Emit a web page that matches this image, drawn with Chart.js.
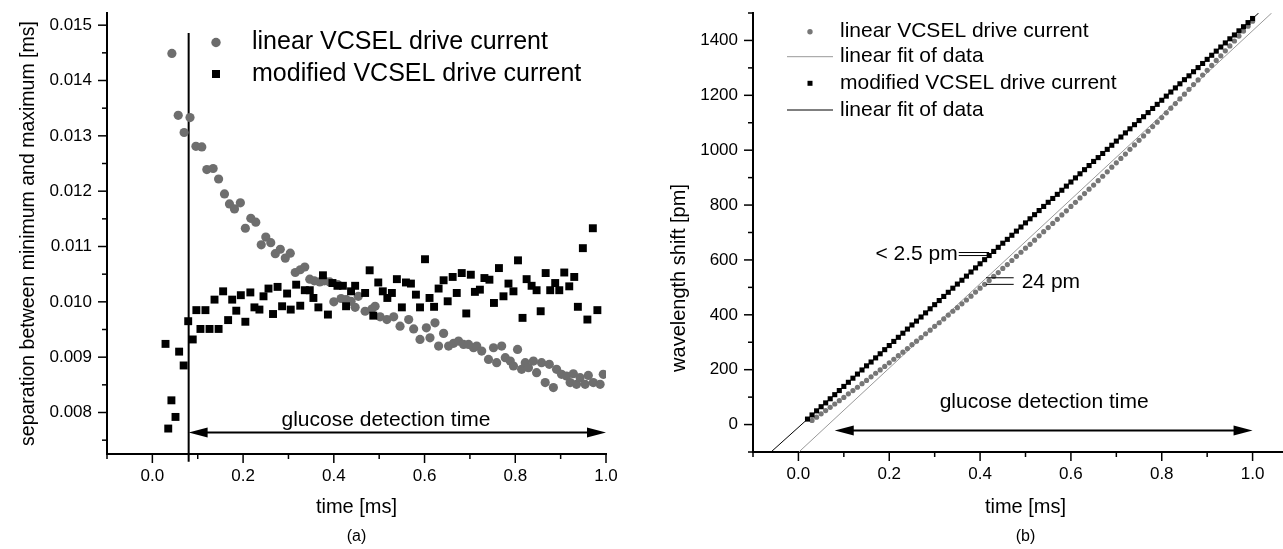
<!DOCTYPE html>
<html>
<head>
<meta charset="utf-8">
<title>VCSEL drive current</title>
<script src="https://cdn.jsdelivr.net/npm/chart.js@4.4.1/dist/chart.umd.min.js"></script>
<style>
  html, body { margin: 0; padding: 0; background: #fff; width: 1283px; height: 549px; overflow: hidden; }
  #boxA { position: absolute; left: 0; top: 0; width: 640px; height: 549px; }
  #boxB { position: absolute; left: 640px; top: 0; width: 670px; height: 549px; }
</style>
</head>
<body>
<div id="boxA"><canvas id="chartA" width="640" height="549"></canvas></div>
<div id="boxB"><canvas id="chartB" width="670" height="549"></canvas></div>
<script>
// ---------- (a) separation between minimum and maximum ----------
const timeLinA = [0.043, 0.057, 0.070, 0.083, 0.096, 0.109, 0.120, 0.134, 0.146, 0.159, 0.170, 0.181, 0.194, 0.205, 0.217, 0.228, 0.240, 0.250, 0.261, 0.271,
  0.282, 0.293, 0.304, 0.315, 0.326, 0.336, 0.347, 0.357, 0.369, 0.379, 0.391, 0.400, 0.409, 0.416, 0.427, 0.438, 0.447, 0.454, 0.469, 0.484,
  0.491, 0.502, 0.517, 0.532, 0.546, 0.565, 0.576, 0.590, 0.604, 0.612, 0.623, 0.631, 0.642, 0.653, 0.664, 0.675, 0.686, 0.697, 0.708, 0.715,
  0.726, 0.741, 0.752, 0.759, 0.770, 0.778, 0.789, 0.796, 0.805, 0.814, 0.822, 0.829, 0.840, 0.847, 0.858, 0.866, 0.875, 0.884, 0.891, 0.902,
  0.913, 0.921, 0.928, 0.935, 0.943, 0.954, 0.961, 0.972, 0.987, 0.994];
const sepLinA = [0.01449, 0.01337, 0.01306, 0.01333, 0.01281, 0.01280, 0.01239, 0.01241, 0.01222, 0.01195, 0.01177, 0.01168, 0.01179, 0.01133, 0.01151, 0.01144, 0.01103, 0.01117, 0.01107, 0.01087,
  0.01095, 0.01079, 0.01088, 0.01053, 0.01058, 0.01063, 0.01041, 0.01038, 0.01036, 0.01038, 0.01036, 0.01000, 0.01031, 0.01006, 0.01004, 0.01001, 0.00990, 0.01010, 0.00983, 0.00987,
  0.00992, 0.00973, 0.00968, 0.00973, 0.00956, 0.00968, 0.00951, 0.00932, 0.00953, 0.00935, 0.00962, 0.00920, 0.00943, 0.00920, 0.00925, 0.00929, 0.00923, 0.00923, 0.00917, 0.00920,
  0.00911, 0.00896, 0.00917, 0.00890, 0.00920, 0.00899, 0.00893, 0.00884, 0.00914, 0.00878, 0.00890, 0.00881, 0.00893, 0.00872, 0.00890, 0.00854, 0.00887, 0.00845, 0.00878, 0.00869,
  0.00866, 0.00854, 0.00870, 0.00851, 0.00863, 0.00851, 0.00867, 0.00854, 0.00851, 0.00869];

const timeModA = [0.029, 0.035, 0.042, 0.051, 0.059, 0.069, 0.079, 0.089, 0.097, 0.106, 0.117, 0.126, 0.137, 0.146, 0.156, 0.167, 0.176, 0.185, 0.195, 0.205,
  0.216, 0.225, 0.236, 0.245, 0.256, 0.266, 0.276, 0.286, 0.297, 0.305, 0.317, 0.326, 0.336, 0.347, 0.355, 0.366, 0.376, 0.387, 0.397, 0.408,
  0.420, 0.427, 0.438, 0.447, 0.469, 0.479, 0.487, 0.498, 0.508, 0.518, 0.528, 0.539, 0.550, 0.559, 0.570, 0.581, 0.590, 0.601, 0.611, 0.621,
  0.631, 0.642, 0.651, 0.662, 0.671, 0.682, 0.692, 0.702, 0.711, 0.722, 0.732, 0.743, 0.753, 0.764, 0.774, 0.785, 0.796, 0.806, 0.816, 0.825,
  0.836, 0.847, 0.856, 0.867, 0.877, 0.888, 0.897, 0.908, 0.919, 0.930, 0.938, 0.949, 0.959, 0.971, 0.981];
const sepModA = [0.00924, 0.00771, 0.00822, 0.00792, 0.00910, 0.00885, 0.00965, 0.00932, 0.00985, 0.00951, 0.00985, 0.00951, 0.01004, 0.00951, 0.01019, 0.00967, 0.01004, 0.00984, 0.01012, 0.00964,
  0.01017, 0.00990, 0.00986, 0.01010, 0.01024, 0.00978, 0.01027, 0.00992, 0.01015, 0.00986, 0.01031, 0.00993, 0.01021, 0.01021, 0.01007, 0.00990, 0.01048, 0.00977, 0.01034, 0.01029,
  0.01029, 0.00992, 0.01019, 0.01029, 0.01016, 0.01057, 0.00975, 0.01035, 0.01019, 0.01007, 0.01016, 0.01041, 0.00990, 0.01035, 0.01033, 0.01013, 0.00990, 0.01077, 0.01007, 0.00991,
  0.01024, 0.01039, 0.01001, 0.01045, 0.01016, 0.01052, 0.00979, 0.01049, 0.01018, 0.01022, 0.01043, 0.01040, 0.00998, 0.01061, 0.01010, 0.01033, 0.01019, 0.01075, 0.00971, 0.01041,
  0.01029, 0.01021, 0.00983, 0.01052, 0.01021, 0.01034, 0.01021, 0.01053, 0.01028, 0.01045, 0.00991, 0.01097, 0.00968, 0.01133, 0.00985];

const startLineA = { x: 0.08, y: [0.01486, 0.00711] };
const arrowA = { x: [0.08, 1.0], y: 0.00764 };
const noteA = { x: 0.515, y: 0.00786 };

const xMajorA = [0, 0.2, 0.4, 0.6, 0.8, 1.0];
const xLabelsA = ['0.0', '0.2', '0.4', '0.6', '0.8', '1.0'];
const xMinorA = [-0.1, 0.1, 0.3, 0.5, 0.7, 0.9];
const yMajorA = [0.008, 0.009, 0.010, 0.011, 0.012, 0.013, 0.014, 0.015];
const yLabelsA = ['0.008', '0.009', '0.010', '0.011', '0.012', '0.013', '0.014', '0.015'];
const yMinorA = [0.0075, 0.0085, 0.0095, 0.0105, 0.0115, 0.0125, 0.0135, 0.0145];

// ---------- (b) wavelength shift ----------
const timeB = [0.02, 0.03, 0.04, 0.05, 0.06, 0.07, 0.08, 0.09, 0.10, 0.11, 0.12, 0.13, 0.14, 0.15, 0.16, 0.17, 0.18, 0.19, 0.20,
  0.21, 0.22, 0.23, 0.24, 0.25, 0.26, 0.27, 0.28, 0.29, 0.30, 0.31, 0.32, 0.33, 0.34, 0.35, 0.36, 0.37, 0.38, 0.39, 0.40,
  0.41, 0.42, 0.43, 0.44, 0.45, 0.46, 0.47, 0.48, 0.49, 0.50, 0.51, 0.52, 0.53, 0.54, 0.55, 0.56, 0.57, 0.58, 0.59, 0.60,
  0.61, 0.62, 0.63, 0.64, 0.65, 0.66, 0.67, 0.68, 0.69, 0.70, 0.71, 0.72, 0.73, 0.74, 0.75, 0.76, 0.77, 0.78, 0.79, 0.80,
  0.81, 0.82, 0.83, 0.84, 0.85, 0.86, 0.87, 0.88, 0.89, 0.90, 0.91, 0.92, 0.93, 0.94, 0.95, 0.96, 0.97, 0.98, 0.99, 1.00];
const shiftLinB = [null, 15, 27, 39, 51, 63, 75, 87, 99, 112, 124, 136, 149, 161, 174, 187, 199, 212, 225,
  238, 251, 264, 277, 291, 304, 317, 331, 344, 358, 371, 385, 399, 413, 426, 440, 454, 468, 483, 497,
  511, 525, 540, 554, 569, 583, 598, 613, 628, 643, 657, 672, 688, 703, 718, 733, 748, 764, 779, 795,
  810, 826, 842, 858, 873, 889, 905, 921, 938, 954, 970, 986, 1003, 1019, 1036, 1052, 1069, 1086, 1102, 1119,
  1136, 1153, 1170, 1187, 1204, 1222, 1239, 1256, 1274, 1291, 1309, 1327, 1344, 1362, 1380, 1398, 1416, 1434, 1452, 1470];
const shiftModB = [20, 35, 50, 65, 79, 94, 109, 124, 139, 154, 169, 184, 199, 214, 228, 243, 258, 273, 288,
  303, 318, 333, 348, 363, 377, 392, 407, 422, 437, 452, 467, 482, 497, 512, 526, 541, 556, 571, 586,
  601, 616, 631, 646, 661, 675, 690, 705, 720, 735, 750, 765, 780, 795, 810, 824, 839, 854, 869, 884,
  899, 914, 929, 944, 959, 973, 988, 1003, 1018, 1033, 1048, 1063, 1078, 1093, 1108, 1122, 1137, 1152, 1167, 1182,
  1197, 1212, 1227, 1242, 1257, 1271, 1286, 1301, 1316, 1331, 1346, 1361, 1376, 1391, 1406, 1420, 1435, 1450, 1465, 1480];

const fitLinX = [0.001, 1.042];
const fitLinY = [-100, 1500];
const fitModX = [-0.0604, 1.0134];
const fitModY = [-100, 1500];

const gapMod = { x: [0.353, 0.42], y: [627, 616] };  // "< 2.5 pm" marker
const gapLin = { x: [0.413, 0.474], y: [535, 511] };  // "24 pm" marker
const arrowB = { x: [0.08, 1.0], y: -22 };
const noteB = { x: 0.541, y: 83 };

const xMajorB = [0, 0.2, 0.4, 0.6, 0.8, 1.0];
const xLabelsB = ['0.0', '0.2', '0.4', '0.6', '0.8', '1.0'];
const xMinorB = [-0.1, 0.1, 0.3, 0.5, 0.7, 0.9, 1.1];
const yMajorB = [0, 200, 400, 600, 800, 1000, 1200, 1400];
const yLabelsB = ['0', '200', '400', '600', '800', '1000', '1200', '1400'];
const yMinorB = [-100, 100, 300, 500, 700, 900, 1100, 1300, 1500];

const FONT = '"Liberation Sans", Arial, sans-serif';
Chart.defaults.font.family = FONT;
Chart.defaults.color = '#000';

function pts(xs, ys) {
  return xs.map((x, i) => ({ x: x, y: ys[i] }));
}

function isIn(v, list) {
  return list.some(m => Math.abs(m - v) < 1e-9);
}

function axis(o) {
  const all = o.major.concat(o.minor).sort((a, b) => a - b);
  return {
    type: 'linear',
    min: o.min,
    max: o.max,
    afterBuildTicks: s => { s.ticks = all.map(v => ({ value: v })); },
    afterFit: s => {
      if (o.width) s.width = o.width;
      if (o.height) s.height = o.height;
      // label overhang is handled by the layout padding
      s.paddingTop = 0;
      s.paddingBottom = 0;
      s.paddingLeft = 0;
      s.paddingRight = 0;
    },
    grid: { drawOnChartArea: false, drawTicks: false },
    border: { display: true, color: '#000', width: 2 },
    ticks: {
      autoSkip: false,
      maxRotation: 0,
      padding: o.pad,
      color: '#000',
      font: { size: 17 },
      callback: v => {
        const i = o.major.findIndex(m => Math.abs(m - v) < 1e-9);
        return i < 0 ? '' : o.labels[i];
      }
    },
    title: { display: o.title !== '', text: o.title, color: '#000', font: { size: o.titleSize }, padding: o.titlePad }
  };
}

// Origin style tick marks: long for labelled ticks, short for the others
const tickMarks = {
  id: 'tickMarks',
  afterDraw(chart, args, opts) {
    const { ctx, chartArea: a } = chart;
    ctx.save();
    ctx.strokeStyle = '#000';
    ctx.lineWidth = 1.5;
    [['x', opts.xMajor], ['y', opts.yMajor]].forEach(([id, major]) => {
      const s = chart.scales[id];
      s.ticks.forEach(t => {
        const len = isIn(t.value, major) ? 9 : 5;
        const p = s.getPixelForValue(t.value);
        ctx.beginPath();
        if (s.isHorizontal()) {
          ctx.moveTo(p, a.bottom);
          ctx.lineTo(p, a.bottom + len);
        } else {
          ctx.moveTo(a.left - len, p);
          ctx.lineTo(a.left, p);
        }
        ctx.stroke();
      });
    });
    ctx.restore();
  }
};

function drawArrow(ctx, x1, x2, y) {
  const head = 19, half = 5;
  ctx.strokeStyle = '#000';
  ctx.fillStyle = '#000';
  ctx.lineWidth = 2;
  ctx.beginPath();
  ctx.moveTo(x1 + head - 2, y);
  ctx.lineTo(x2 - head + 2, y);
  ctx.stroke();
  ctx.beginPath();
  ctx.moveTo(x1, y);
  ctx.lineTo(x1 + head, y - half);
  ctx.lineTo(x1 + head, y + half);
  ctx.closePath();
  ctx.fill();
  ctx.beginPath();
  ctx.moveTo(x2, y);
  ctx.lineTo(x2 - head, y - half);
  ctx.lineTo(x2 - head, y + half);
  ctx.closePath();
  ctx.fill();
}

const decorA = {
  id: 'decorA',
  afterDraw(chart) {
    const { ctx, chartArea: a, scales: { x, y } } = chart;
    ctx.save();
    drawArrow(ctx, x.getPixelForValue(arrowA.x[0]), x.getPixelForValue(arrowA.x[1]), y.getPixelForValue(arrowA.y));
    ctx.fillStyle = '#000';
    ctx.textBaseline = 'middle';
    ctx.textAlign = 'center';
    ctx.font = '21px ' + FONT;
    ctx.fillText('glucose detection time', x.getPixelForValue(noteA.x), y.getPixelForValue(noteA.y));

    // legend
    ctx.fillStyle = '#6b6b6b';
    ctx.beginPath();
    ctx.arc(216, 42.5, 4.7, 0, Math.PI * 2);
    ctx.fill();
    ctx.fillStyle = '#000';
    ctx.fillRect(212, 70, 8, 8);
    ctx.textAlign = 'left';
    ctx.font = '25px ' + FONT;
    ctx.fillText('linear VCSEL drive current', 252, 42.5);
    ctx.fillText('modified VCSEL drive current', 252, 74);

    ctx.textAlign = 'center';
    ctx.font = '16px ' + FONT;
    ctx.fillText('(a)', (a.left + a.right) / 2, 537);
    ctx.restore();
  }
};

const decorB = {
  id: 'decorB',
  afterDraw(chart) {
    const { ctx, chartArea: a, scales: { x, y } } = chart;
    ctx.save();
    drawArrow(ctx, x.getPixelForValue(arrowB.x[0]), x.getPixelForValue(arrowB.x[1]), y.getPixelForValue(arrowB.y));
    ctx.fillStyle = '#000';
    ctx.textBaseline = 'middle';
    ctx.textAlign = 'center';
    ctx.font = '21px ' + FONT;
    ctx.fillText('glucose detection time', x.getPixelForValue(noteB.x), y.getPixelForValue(noteB.y));

    // deviation markers
    ctx.strokeStyle = '#000';
    ctx.lineWidth = 1;
    [gapMod, gapLin].forEach(g => {
      g.y.forEach(v => {
        ctx.beginPath();
        ctx.moveTo(x.getPixelForValue(g.x[0]), y.getPixelForValue(v));
        ctx.lineTo(x.getPixelForValue(g.x[1]), y.getPixelForValue(v));
        ctx.stroke();
      });
    });
    ctx.textAlign = 'right';
    ctx.fillText('< 2.5 pm', x.getPixelForValue(gapMod.x[0]) - 1, (y.getPixelForValue(gapMod.y[0]) + y.getPixelForValue(gapMod.y[1])) / 2);
    ctx.textAlign = 'left';
    ctx.fillText('24 pm', x.getPixelForValue(gapLin.x[1]) + 8, (y.getPixelForValue(gapLin.y[0]) + y.getPixelForValue(gapLin.y[1])) / 2 + 1);

    // legend
    ctx.fillStyle = '#777';
    ctx.beginPath();
    ctx.arc(170, 31.7, 2.7, 0, Math.PI * 2);
    ctx.fill();
    ctx.strokeStyle = '#999';
    ctx.beginPath();
    ctx.moveTo(147, 56.7);
    ctx.lineTo(193, 56.7);
    ctx.stroke();
    ctx.fillStyle = '#000';
    ctx.fillRect(167.5, 80.8, 5, 5);
    ctx.strokeStyle = '#000';
    ctx.beginPath();
    ctx.moveTo(147, 110);
    ctx.lineTo(193, 110);
    ctx.stroke();
    ctx.font = '21px ' + FONT;
    ctx.fillText('linear VCSEL drive current', 200, 31.7);
    ctx.fillText('linear fit of data', 200, 56.7);
    ctx.fillText('modified VCSEL drive current', 200, 83.3);
    ctx.fillText('linear fit of data', 200, 110);

    // y axis title, sits a little below the middle of the axis
    ctx.save();
    ctx.translate(39, 278);
    ctx.rotate(-Math.PI / 2);
    ctx.textAlign = 'center';
    ctx.font = '20px ' + FONT;
    ctx.fillText('wavelength shift [pm]', 0, 0);
    ctx.restore();

    ctx.textAlign = 'center';
    ctx.font = '16px ' + FONT;
    ctx.fillText('(b)', (a.left + a.right) / 2, 537);
    ctx.restore();
  }
};

new Chart(document.getElementById('chartA'), {
  type: 'scatter',
  data: {
    datasets: [
      {
        label: 'modified VCSEL drive current',
        data: pts(timeModA, sepModA),
        pointStyle: 'rect',
        pointRadius: 5.6,
        backgroundColor: '#000',
        borderWidth: 0
      },
      {
        label: 'linear VCSEL drive current',
        data: pts(timeLinA, sepLinA),
        pointStyle: 'circle',
        pointRadius: 4.6,
        backgroundColor: '#6e6e6e',
        borderWidth: 0
      },
      {
        label: 'start',
        data: startLineA.y.map(v => ({ x: startLineA.x, y: v })),
        showLine: true,
        clip: false,
        borderColor: '#000',
        borderWidth: 2,
        pointRadius: 0
      }
    ]
  },
  options: {
    responsive: false,
    animation: false,
    devicePixelRatio: 1,
    layout: { padding: { left: 0, top: 13, right: 34, bottom: 0 } },
    plugins: {
      legend: { display: false },
      tooltip: { enabled: false },
      tickMarks: { xMajor: xMajorA, yMajor: yMajorA }
    },
    scales: {
      x: axis({ min: -0.1, max: 1.0, major: xMajorA, minor: xMinorA, labels: xLabelsA, pad: 12, height: 95,
        title: 'time [ms]', titleSize: 20, titlePad: { top: 4, bottom: 30 } }),
      y: axis({ min: 0.00725, max: 0.01522, major: yMajorA, minor: yMinorA, labels: yLabelsA, pad: 15, width: 107,
        title: 'separation between minimum and maximum [ms]', titleSize: 19.5, titlePad: { top: 17, bottom: 4 } })
    }
  },
  plugins: [tickMarks, decorA]
});

new Chart(document.getElementById('chartB'), {
  type: 'scatter',
  data: {
    datasets: [
      {
        label: 'modified VCSEL drive current',
        data: pts(timeB, shiftModB),
        pointStyle: 'rect',
        pointRadius: 3.6,
        backgroundColor: '#000',
        borderWidth: 0
      },
      {
        label: 'linear VCSEL drive current',
        data: pts(timeB, shiftLinB),
        pointStyle: 'circle',
        pointRadius: 2.6,
        backgroundColor: '#777',
        borderWidth: 0
      },
      {
        label: 'linear fit of data (modified)',
        data: pts(fitModX, fitModY),
        showLine: true,
        borderColor: '#000',
        borderWidth: 1,
        pointRadius: 0
      },
      {
        label: 'linear fit of data (linear)',
        data: pts(fitLinX, fitLinY),
        showLine: true,
        borderColor: '#999',
        borderWidth: 1,
        pointRadius: 0
      }
    ]
  },
  options: {
    responsive: false,
    animation: false,
    devicePixelRatio: 1,
    layout: { padding: { left: 0, top: 13, right: 12, bottom: 0 } },
    plugins: {
      legend: { display: false },
      tooltip: { enabled: false },
      tickMarks: { xMajor: xMajorB, yMajor: yMajorB }
    },
    scales: {
      x: axis({ min: -0.1, max: 1.1, major: xMajorB, minor: xMinorB, labels: xLabelsB, pad: 12, height: 97,
        title: 'time [ms]', titleSize: 20, titlePad: { top: 4, bottom: 30 } }),
      y: axis({ min: -100, max: 1500, major: yMajorB, minor: yMinorB, labels: yLabelsB, pad: 15, width: 113,
        title: '', titleSize: 20, titlePad: 0 })
    }
  },
  plugins: [tickMarks, decorB]
});
</script>
</body>
</html>
